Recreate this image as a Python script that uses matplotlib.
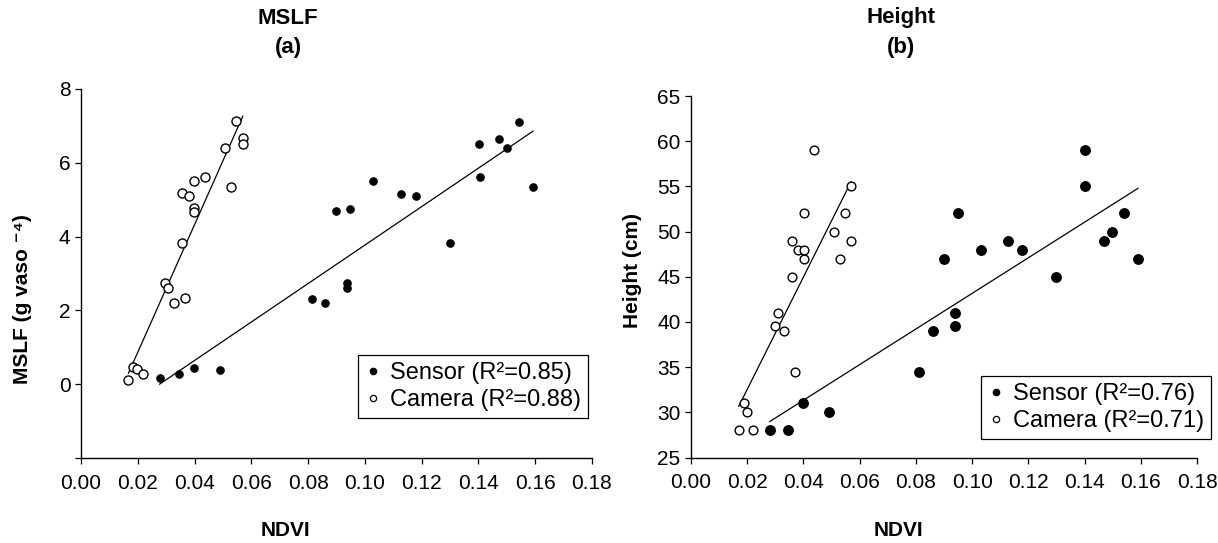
import numpy as np
import matplotlib
matplotlib.use("Agg")
import matplotlib.pyplot as plt
from matplotlib.lines import Line2D

plt.rcParams['font.family'] = ['Liberation Sans', 'DejaVu Sans']

# ---------------- data ----------------
# Panel (a): MSLF vs NDVI
mslf_sensor_ndvi = [0.1544, 0.1401, 0.1472, 0.1502, 0.1404, 0.1592, 0.1030, 0.1126, 0.1181, 0.0899,
                    0.0949, 0.1301, 0.0937, 0.0937, 0.0813, 0.0858, 0.0277, 0.0346, 0.0399, 0.0490]
mslf_sensor_val = [7.11, 6.51, 6.65, 6.39, 5.61, 5.34, 5.50, 5.16, 5.11, 4.69,
                   4.74, 3.83, 2.73, 2.61, 2.32, 2.21, 0.17, 0.28, 0.44, 0.39]
mslf_camera_ndvi = [0.0546, 0.0570, 0.0570, 0.0507, 0.0437, 0.0399, 0.0357, 0.0379, 0.0528, 0.0398,
                    0.0398, 0.0356, 0.0295, 0.0306, 0.0328, 0.0366, 0.0184, 0.0196, 0.0217, 0.0167]
mslf_camera_val = [7.12, 6.68, 6.51, 6.40, 5.62, 5.50, 5.18, 5.11, 5.34, 4.78,
                   4.68, 3.83, 2.73, 2.61, 2.21, 2.33, 0.47, 0.42, 0.28, 0.12]

# Panel (b): Height vs NDVI
h_sensor_ndvi = [0.1400, 0.1400, 0.0951, 0.1539, 0.1498, 0.1469, 0.1127, 0.1030, 0.1177, 0.0900,
                 0.1590, 0.1299, 0.0940, 0.0940, 0.0860, 0.0810, 0.0400, 0.0492, 0.0280, 0.0346]
h_sensor_val = [59, 55, 52, 52, 50, 49, 49, 48, 48, 47,
                47, 45, 41, 39.5, 39, 34.5, 31, 30, 28, 28]
h_camera_ndvi = [0.0438, 0.0569, 0.0402, 0.0549, 0.0509, 0.0358, 0.0569, 0.0380, 0.0402, 0.0402,
                 0.0531, 0.0358, 0.0310, 0.0299, 0.0332, 0.0369, 0.0190, 0.0200, 0.0170, 0.0220]
h_camera_val = [59, 55, 52, 52, 50, 49, 49, 48, 48, 47,
                47, 45, 41, 39.5, 39, 34.5, 31, 30, 28, 28]

legend_a = ["Sensor (R\u00b2=0.85)", "Camera (R\u00b2=0.88)"]
legend_b = ["Sensor (R\u00b2=0.76)", "Camera (R\u00b2=0.71)"]
xticks = [0.00, 0.02, 0.04, 0.06, 0.08, 0.10, 0.12, 0.14, 0.16, 0.18]
yticks_a = [-2, 0, 2, 4, 6, 8]
yticks_b = [25, 30, 35, 40, 45, 50, 55, 60, 65]

# ---------------- figure ----------------
W, H = 1218, 543
fig = plt.figure(figsize=(W / 100, H / 100), dpi=100)

def px_axes(x0, x1, ytop, ybot):
    return [x0 / W, 1 - ybot / H, (x1 - x0) / W, (ybot - ytop) / H]

ax1 = fig.add_axes(px_axes(81, 592, 89, 458))
ax2 = fig.add_axes(px_axes(691, 1197, 96, 457.5))

def fitline(ax, x, y):
    x = np.asarray(x); y = np.asarray(y)
    b, a = np.polyfit(x, y, 1)
    xs = np.array([x.min(), x.max()])
    ax.plot(xs, a + b * xs, color='black', lw=0.9, zorder=2)

def style(ax, ylim, yticks, ylabels):
    ax.set_xlim(0, 0.18)
    ax.set_ylim(*ylim)
    ax.set_xticks(xticks)
    ax.set_xticklabels([f"{t:.2f}" for t in xticks])
    ax.set_yticks(yticks)
    ax.set_yticklabels(ylabels)
    for s in ['top', 'right']:
        ax.spines[s].set_visible(False)
    for s in ['left', 'bottom']:
        ax.spines[s].set_linewidth(1.0)
    ax.tick_params(axis='both', direction='out', length=4.5, width=0.9, labelsize=15)
    ax.tick_params(axis='x', pad=7)
    ax.tick_params(axis='y', pad=3)

# Panel a
ax1.plot(mslf_sensor_ndvi, mslf_sensor_val, 'o', ms=5.2, mfc='black', mec='black', ls='none', zorder=3)
ax1.plot(mslf_camera_ndvi, mslf_camera_val, 'o', ms=6.5, mfc='white', mec='black', mew=1.0, ls='none', zorder=3)
fitline(ax1, mslf_sensor_ndvi, mslf_sensor_val)
fitline(ax1, mslf_camera_ndvi, mslf_camera_val)
style(ax1, (-2, 8), yticks_a, ['' if t == -2 else str(t) for t in yticks_a])

# Panel b
ax2.plot(h_sensor_ndvi, h_sensor_val, 'o', ms=6.8, mfc='black', mec='black', ls='none', zorder=3)
ax2.plot(h_camera_ndvi, h_camera_val, 'o', ms=6.3, mfc='white', mec='black', mew=1.0, ls='none', zorder=3)
fitline(ax2, h_sensor_ndvi, h_sensor_val)
fitline(ax2, h_camera_ndvi, h_camera_val)
style(ax2, (25, 65), yticks_b, [str(t) for t in yticks_b])

def legend(ax, labels, anchor):
    handles = [Line2D([], [], ls='none', marker='o', ms=4.5, mfc='black', mec='black'),
               Line2D([], [], ls='none', marker='o', ms=4.5, mfc='white', mec='black', mew=0.9)]
    leg = ax.legend(handles, labels, loc='upper left', bbox_to_anchor=anchor,
                    frameon=True, fancybox=False, shadow=False, fontsize=17,
                    handlelength=0.7, handletextpad=0.35, borderpad=0.3,
                    labelspacing=0.2, borderaxespad=0)
    leg.get_frame().set_edgecolor('black')
    leg.get_frame().set_linewidth(0.9)
    leg.get_frame().set_alpha(1)

legend(ax1, legend_a, (0.542, 0.279))
legend(ax2, legend_b, (0.573, 0.225))

# Titles
for x, t1, t2 in [(288, "MSLF", "(a)"), (901, "Height", "(b)")]:
    fig.text(x / W, 1 - 18 / H, t1, ha='center', va='center', fontsize=16, fontweight='bold')
    fig.text(x / W, 1 - 47 / H, t2, ha='center', va='center', fontsize=16, fontweight='bold')

# X labels
fig.text(285 / W, 1 - 531 / H, "NDVI", ha='center', va='center', fontsize=15, fontweight='bold')
fig.text(898 / W, 1 - 531 / H, "NDVI", ha='center', va='center', fontsize=15, fontweight='bold')

# Y labels
fig.text(23 / W, 1 - 299 / H, "MSLF (g vaso \u207b\u2074)", ha='center', va='center', rotation=90,
         fontsize=15, fontweight='bold')
fig.text(633 / W, 1 - 270 / H, "Height (cm)", ha='center', va='center', rotation=90,
         fontsize=15, fontweight='bold')

fig.savefig("out.png", dpi=100)
